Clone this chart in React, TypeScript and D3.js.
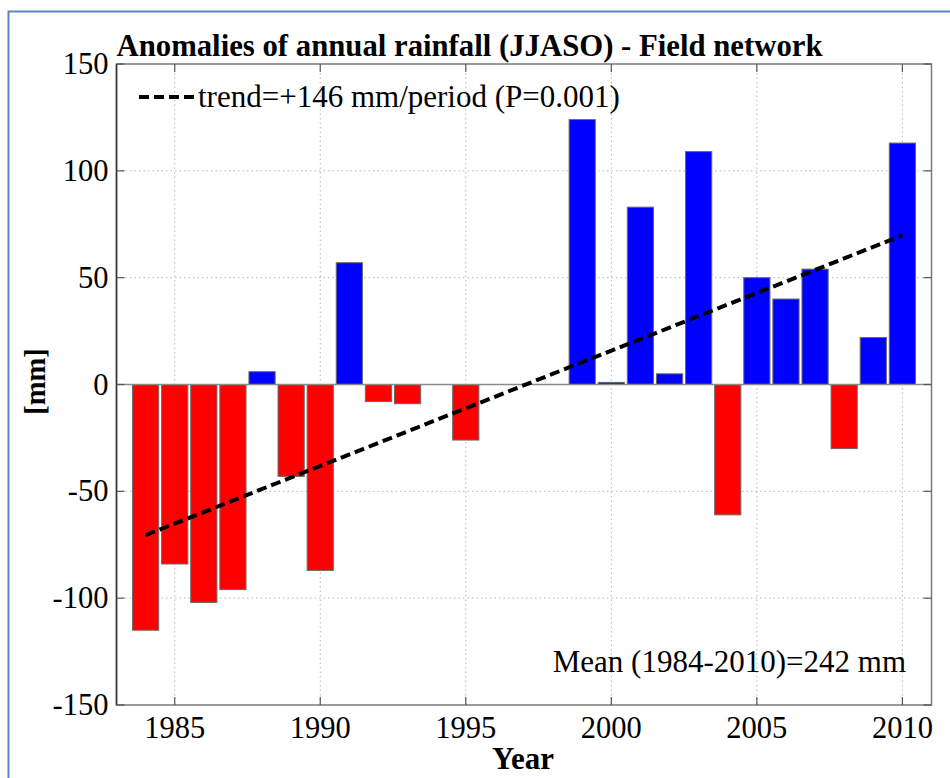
/**
 * App.tsx – Anomalies of annual rainfall (JJASO), field network
 *
 * Bar chart of yearly anomalies (red below zero, blue above) with a
 * dashed linear trend, drawn with D3 into a fixed 950x778 svg.
 */

import React, { useEffect, useRef } from "react";
import * as d3 from "d3";

const years = [
    1984, 1985, 1986, 1987, 1988, 1989, 1990, 1991, 1992, 1993, 1994, 1995, 1996, 1997,
    1998, 1999, 2000, 2001, 2002, 2003, 2004, 2005, 2006, 2007, 2008, 2009, 2010,
];
const anomalies = [
    -115, -84, -102, -96, 6, -43, -87, 57, -8, -9, 0, -26, 0, 0,
    0, 124, 1, 83, 5, 109, -61, 50, 40, 54, -30, 22, 113,
];
const trendYears = [1984, 2010];
const trendValues = [-70.5, 69.8];
const xTicks = [1985, 1990, 1995, 2000, 2005, 2010];
const yTicks = [-150, -100, -50, 0, 50, 100, 150];

const TITLE = "Anomalies of annual rainfall (JJASO) - Field network";
const LEGEND = "trend=+146 mm/period (P=0.001)";
const NOTE = "Mean (1984-2010)=242 mm";

const App: React.FC = () => {
    const svgRef = useRef<SVGSVGElement | null>(null);

    useEffect(() => {
        if (!svgRef.current) return;

        const WIDTH = 950;
        const HEIGHT = 778;
        const P = { left: 116.5, right: 931.5, top: 64, bottom: 705 };
        const FONT = "\"Liberation Serif\", \"DejaVu Serif\", serif";

        const root = d3.select(svgRef.current);
        root.selectAll("*").remove();
        root.attr("width", WIDTH).attr("height", HEIGHT);

        // ── Cadre bleu (bordure d'image) ─────────────────────────────────────
        root.append("rect").attr("width", WIDTH).attr("height", HEIGHT).attr("fill", "#fff");
        root.append("path")
            .attr("d", `M8.5,${HEIGHT + 5} V11.5 H${WIDTH + 5}`)
            .attr("fill", "none").attr("stroke", "#5b86c5").attr("stroke-width", 2);

        // ── Échelles ─────────────────────────────────────────────────────────
        const x = d3.scaleLinear().domain([1983, 2011]).range([P.left, P.right]);
        const y = d3.scaleLinear().domain([-150, 150]).range([P.bottom, P.top]);
        const barW = x(1983.9) - x(1983);

        const svg = root.append("g");

        // ── Grille pointillée ────────────────────────────────────────────────
        const grid = svg.append("g").attr("stroke", "#b8b8b8").attr("stroke-width", 1)
            .attr("stroke-dasharray", "1.5,3");
        xTicks.forEach((t) => {
            grid.append("line").attr("x1", x(t)).attr("x2", x(t))
                .attr("y1", P.top).attr("y2", P.bottom);
        });
        yTicks.filter((t) => t !== 0 && Math.abs(t) !== 150).forEach((t) => {
            grid.append("line").attr("x1", P.left).attr("x2", P.right)
                .attr("y1", y(t)).attr("y2", y(t));
        });

        // ── Barres ───────────────────────────────────────────────────────────
        const data = years.map((yr, i) => ({ yr, v: anomalies[i] })).filter((d) => d.v !== 0);
        svg.append("g").selectAll("rect")
            .data(data)
            .enter()
            .append("rect")
            .attr("x", (d) => x(d.yr) - barW / 2)
            .attr("width", barW)
            .attr("y", (d) => y(Math.max(0, d.v)))
            .attr("height", (d) => Math.abs(y(d.v) - y(0)))
            .attr("fill", (d) => (d.v < 0 ? "#ff0000" : "#0000ff"))
            .attr("stroke", "#6a6a6a")
            .attr("stroke-width", 1);

        // ligne du zéro
        svg.append("line").attr("x1", P.left).attr("x2", P.right)
            .attr("y1", y(0)).attr("y2", y(0))
            .attr("stroke", "#8a8a8a").attr("stroke-width", 1.5);

        // ── Tendance ─────────────────────────────────────────────────────────
        const trend = trendYears.map((yr, i) => [yr, trendValues[i]] as [number, number]);
        svg.append("path")
            .datum(trend)
            .attr("fill", "none")
            .attr("stroke", "#000")
            .attr("stroke-width", 4)
            .attr("stroke-dasharray", "10,5")
            .attr("d", d3.line<[number, number]>().x((d) => x(d[0])).y((d) => y(d[1])));

        // ── Cadre des axes et graduations ────────────────────────────────────
        svg.append("rect")
            .attr("x", P.left).attr("y", P.top)
            .attr("width", P.right - P.left).attr("height", P.bottom - P.top)
            .attr("fill", "none").attr("stroke", "#7a7a7a").attr("stroke-width", 1.5);
        svg.append("line").attr("x1", P.left).attr("x2", P.left)
            .attr("y1", P.top).attr("y2", P.bottom)
            .attr("stroke", "#333").attr("stroke-width", 1.5);

        const TL = 8;
        const ticks = svg.append("g").attr("stroke", "#555").attr("stroke-width", 1.2);
        xTicks.forEach((t) => {
            ticks.append("line").attr("x1", x(t)).attr("x2", x(t)).attr("y1", P.bottom).attr("y2", P.bottom - TL);
            ticks.append("line").attr("x1", x(t)).attr("x2", x(t)).attr("y1", P.top).attr("y2", P.top + TL);
        });
        yTicks.forEach((t) => {
            ticks.append("line").attr("x1", P.left).attr("x2", P.left + TL).attr("y1", y(t)).attr("y2", y(t));
            ticks.append("line").attr("x1", P.right).attr("x2", P.right - TL).attr("y1", y(t)).attr("y2", y(t));
        });

        // ── Libellés ─────────────────────────────────────────────────────────
        const txt = root.append("g").style("font-family", FONT).attr("fill", "#000");
        const label = (xx: number, yy: number, s: string, size: number, anchor = "start", bold = false) =>
            txt.append("text").attr("x", xx).attr("y", yy)
                .style("font-family", FONT).style("font-size", `${size}px`)
                .style("font-weight", bold ? "bold" : "normal")
                .attr("text-anchor", anchor).text(s);

        xTicks.forEach((t) => label(x(t), P.bottom + 33, String(t), 30.5, "middle"));
        yTicks.forEach((t) => label(P.left - 8, y(t) + 10, String(t), 30.5, "end"));

        label(P.left, 56, TITLE, 31, "start", true)
            .attr("textLength", 706).attr("lengthAdjust", "spacingAndGlyphs");

        label((P.left + P.right) / 2 - 1, 769, "Year", 31, "middle", true);

        label(0, 0, "[mm]", 28.5, "middle", true)
            .attr("transform", `translate(45,${y(0) - 3}) rotate(-90)`);

        // légende
        root.append("line").attr("x1", 139).attr("x2", 195).attr("y1", 97).attr("y2", 97)
            .attr("stroke", "#000").attr("stroke-width", 4).attr("stroke-dasharray", "10,5");
        label(198, 107, LEGEND, 31);

        label(906, 672, NOTE, 31, "end");
    }, []);

    return (
        <div style={{ position: "absolute", left: 0, top: 0 }}>
            <svg ref={svgRef} style={{ display: "block" }} />
        </div>
    );
};

export default App;
